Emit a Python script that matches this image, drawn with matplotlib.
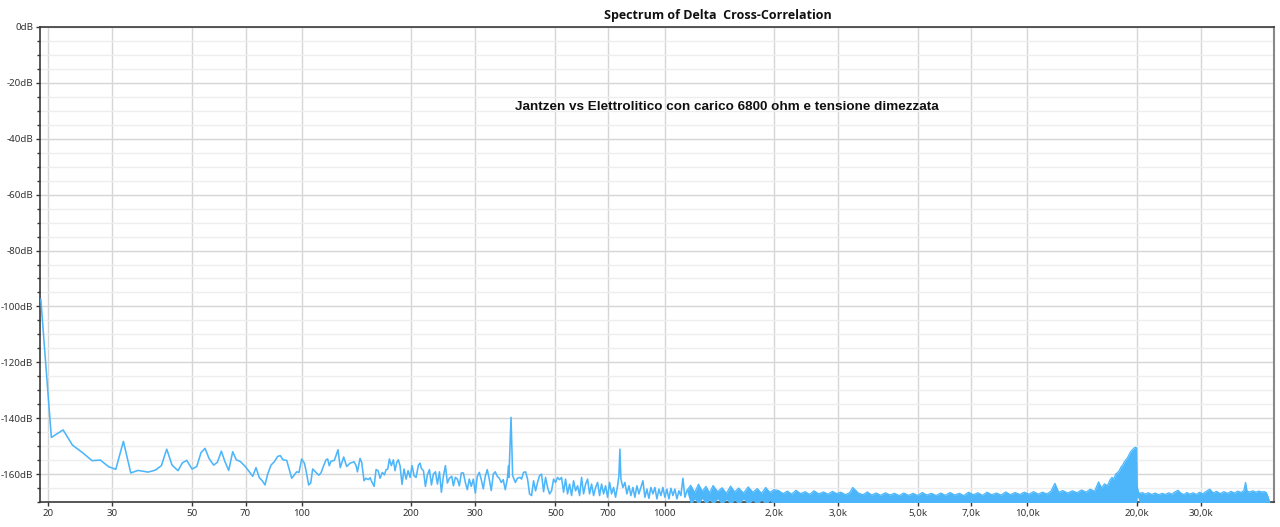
import numpy as np
import matplotlib
matplotlib.use('Agg')
import matplotlib.pyplot as plt
from matplotlib.ticker import FixedLocator, FixedFormatter, MultipleLocator, NullFormatter

TITLE = 'Spectrum of Delta  Cross-Correlation'
NOTE = 'Jantzen vs Elettrolitico con carico 6800 ohm e tensione dimezzata'

# low / mid band, drawn as a line (Hz, dB)
LINE_FREQ = [
  19.1, 20.42, 22.0, 23.33, 24.97, 26.44, 27.87, 29.39, 30.73, 32.25, 33.80, 35.40,
  37.72, 39.50, 41.04, 42.46, 43.92, 45.62, 46.88, 48.21, 49.86, 51.37, 52.79, 54.14,
  55.53, 57.21, 58.54, 60.04, 61.46, 62.92, 64.54, 66.03, 67.72, 69.91, 73.27, 74.82,
  76.40, 77.87, 79.22, 80.58, 82.29, 84.03, 85.86, 87.29, 88.80, 90.91, 93.83, 96.86,
  98.28, 100.0, 101.7, 102.8, 104.5, 105.9, 107.2, 109.5, 111.4, 113.0, 114.7, 116.7,
  117.9, 119.1, 120.4, 123.0, 125.9, 127.7, 130.5, 133.0, 135.9,
  139.4, 141.2, 142.4, 144.8, 146.3, 148.5, 150.4, 152.5, 154.3, 155.9, 158.3, 160.3,
  162.4, 164.4, 166.8, 169.0, 170.8, 172.6, 174.4, 176.6, 178.9, 180.8, 182.8, 184.6,
  186.6, 189.0, 191.4, 193.9, 196.4, 198.9, 201.4, 204.0, 206.6, 209.7, 211.9, 213.7,
  216.5, 219.2, 222.0, 224.9, 227.8, 230.6, 233.6, 236.6, 239.6, 242.6, 245.7, 248.9,
  252.0, 255.2, 259.1, 261.8, 265.1, 268.5, 271.9, 275.4, 278.9, 282.4, 286.0, 289.6,
  293.3, 297.1, 300.9, 304.7, 308.6, 312.5, 316.5, 320.5, 324.6, 328.7, 332.9, 337.2,
  341.5, 345.8, 350.2, 354.7, 359.2, 363.8, 368.4, 371.7, 372.4, 377.4, 381.3, 388.0,
  393.1, 399.6,
  403.5, 408.6, 413.9, 419.2, 424.5, 429.9, 435.4, 441.0, 446.6, 452.3, 458.1, 464.0,
  469.9, 475.9, 482.0, 488.1, 494.4, 500.7, 507.1, 513.6, 520.1, 526.8, 533.5, 540.3,
  547.2, 554.2, 561.3, 568.5, 575.7, 583.1, 590.5, 598.1, 605.7, 613.5, 621.3, 629.2,
  637.3, 645.4, 653.7, 662.0, 670.4, 679.0, 687.7, 696.5, 705.4, 714.4, 723.5, 732.7,
  742.1, 748.4, 753.1, 757.9, 767.6, 777.4, 787.3, 797.4, 807.6, 817.9, 828.3, 838.9,
  849.6, 860.5, 871.5, 882.6, 893.9, 905.3, 916.8, 928.5, 940.4, 952.4, 964.6, 976.9,
  989.4, 1002.0, 1014.8, 1027.8, 1040.9, 1054.1, 1067.6, 1081.3, 1095.1, 1109.0, 1123.2,
  1137.5, 1152.1,
]
LINE_DB = [
  -97.5, -146.9, -144.2, -149.6, -152.5, -155.2, -155.0, -157.4, -158.3, -148.3, -159.6, -158.7,
  -159.3, -158.6, -157.0, -151.1, -156.8, -158.8, -156.0, -155.1, -158.2, -157.3, -152.3, -150.8,
  -154.4, -156.8, -155.8, -151.8, -155.6, -158.7, -152.0, -154.9, -155.5, -157.3, -160.8, -157.7,
  -161.3, -162.4, -163.9, -160.0, -156.8, -155.6, -153.7, -153.4, -154.9, -155.1, -161.5, -159.2,
  -159.4, -154.6, -156.1, -158.8, -163.9, -163.2, -158.2, -159.4, -160.4, -159.6, -157.3, -154.9,
  -154.6, -157.0, -155.4, -155.1, -151.3, -157.7, -153.9, -157.3, -156.1,
  -155.6, -157.0, -159.2, -154.4, -155.8, -162.4, -161.5, -162.0, -161.3, -162.7, -164.4, -158.4,
  -158.8, -161.5, -159.4, -160.3, -158.4, -158.2, -154.6, -157.0, -154.9, -158.8, -155.8, -154.9,
  -157.0, -163.7, -158.2, -161.8, -158.8, -161.2, -157.0, -160.6, -161.2, -156.8, -156.1, -158.0,
  -158.8, -164.4, -160.3, -158.4, -163.9, -160.0, -159.2, -163.6, -159.2, -166.5, -160.8, -157.0,
  -163.2, -161.5, -160.8, -164.2, -161.2, -161.8, -164.2, -159.6, -159.6, -163.0, -165.6, -161.8,
  -164.4, -161.8, -166.8, -160.8, -159.4, -162.0, -165.3, -160.8, -158.4, -161.8, -165.9, -160.0,
  -159.2, -160.8, -161.5, -163.0, -162.0, -165.6, -162.0, -157.0, -161.2, -139.7, -160.6, -163.0,
  -161.5, -161.2,
  -161.8, -159.4, -159.2, -161.8, -167.1, -167.7, -162.4, -166.0, -163.0, -160.6, -160.0, -166.3,
  -161.2, -164.8, -167.1, -166.0, -161.8, -163.0, -161.2, -162.0, -161.2, -166.5, -161.8, -167.1,
  -163.6, -167.7, -162.4, -166.0, -164.2, -167.7, -161.2, -167.1, -163.6, -161.8, -167.1, -163.6,
  -167.7, -164.8, -163.0, -167.7, -163.6, -167.1, -164.2, -168.3, -163.0, -167.1, -164.8, -168.3,
  -164.2, -160.6, -151.1, -161.8, -164.8, -163.0, -167.1, -164.2, -167.7, -164.8, -168.3, -164.2,
  -167.1, -164.8, -162.4, -168.3, -165.4, -168.7, -164.8, -167.1, -164.8, -168.9, -165.4, -167.7,
  -164.8, -168.3, -165.4, -168.9, -165.1, -167.7, -165.4, -168.9, -166.0, -167.7, -161.5,
  -168.3, -166.0,
]

# high band is too dense to see single bins: top edge of the filled band (Hz, dB)
BAND_FREQ = [
  1150, 1180, 1210, 1240, 1270, 1300, 1330, 1360, 1400, 1440, 1480, 1520, 1560, 1600,
  1650, 1700, 1750, 1800, 1850, 1900, 1950, 2000,
  2060, 2120, 2180, 2240, 2300, 2370, 2440, 2510, 2580, 2660, 2740, 2820, 2900, 2980,
  3060, 3150, 3240, 3300, 3420, 3520, 3620, 3720, 3830, 3940, 4060, 4180, 4300, 4430,
  4560, 4700, 4840, 4980, 5130, 5280, 5440, 5600, 5770, 5940, 6120, 6300, 6490, 6680,
  6880, 7090, 7300, 7520, 7740, 7970, 8210, 8460, 8710, 8970, 9240, 9520, 9800, 10100,
  10400, 10700, 11000, 11300, 11600, 11900, 12200, 12500, 12900, 13300, 13700, 14100,
  14500, 14900, 15300,
  15700, 16000, 16300, 16600, 16900, 17100, 17300, 17500, 17700, 17900, 18100, 18300,
  18500, 18700, 18900, 19100, 19300, 19500, 19700, 19900, 19980, 20050, 20200, 20400,
  20700, 21100, 21500, 22000, 22500, 23000, 23500, 24000, 24500, 25000, 25500, 26000,
  26500, 27000, 27500, 28000, 28600, 29200, 29800, 30400, 31000, 31800, 32500, 33200,
  34000, 34800, 35600, 36400, 37200, 38000, 38800, 39500, 39900, 40300, 41000, 41800,
  42600, 43400, 44200, 45000, 45500, 46000, 46500,
]
BAND_TOP = [
  -166.0, -164.0, -166.6, -163.6, -166.2, -164.4, -166.8, -164.1, -166.3, -164.9, -166.9, -164.3, -166.4, -165.0,
  -166.8, -164.6, -166.5, -165.2, -166.9, -164.8, -166.6, -165.6,
  -165.9, -167.0, -166.1, -167.2, -165.8, -167.0, -166.3, -167.3, -166.0, -167.1, -166.4, -167.2, -166.2, -167.0,
  -166.5, -167.4, -166.6, -164.8, -166.8, -167.4, -166.4, -167.5, -166.8, -167.6, -166.7, -167.5, -166.9, -167.7,
  -166.8, -167.6, -166.9, -167.7, -166.6, -167.5, -166.9, -167.7, -166.8, -167.6, -166.6, -167.5, -166.9, -167.7,
  -166.5, -167.4, -166.7, -167.6, -166.5, -167.4, -166.8, -167.5, -166.4, -167.4, -166.6, -167.3, -166.5, -167.2,
  -166.3, -167.2, -166.5, -167.1, -166.2, -163.3, -166.6, -165.9, -166.8, -166.0, -166.7, -165.7,
  -166.5, -165.4, -166.2,
  -162.8, -165.0, -163.5, -164.2, -162.0, -161.2, -161.8, -160.0, -159.5, -158.8, -157.5, -156.8,
  -155.6, -154.8, -154.0, -152.8, -151.8, -151.2, -150.6, -150.4, -150.8, -164.2, -166.3, -167.0,
  -166.6, -167.2, -166.7, -167.3, -166.8, -167.4, -166.9, -167.3, -166.7, -167.2, -166.4, -165.8,
  -166.9, -167.3, -166.6, -167.2, -166.7, -167.3, -166.5, -167.1, -166.3, -165.4, -166.8, -166.2,
  -167.0, -166.3, -166.9, -166.2, -166.8, -166.1, -166.6, -165.8, -163.0, -166.2, -166.4, -166.0,
  -166.5, -166.1, -166.4, -166.3, -166.6, -168.0, -170.0,
]
BAND_FLOOR = -171.0
# places where the bottom of the band lifts off the floor
HOLE_FREQ = [1150, 1210, 1270, 1330, 1400, 1480, 1560, 1650, 1750, 1850, 1950, 20050, 20200]
HOLE_DB = [-166.0, -169.0, -168.8, -169.2, -168.9, -169.1, -169.3, -169.0, -169.4, -169.3, -169.5, -168.4, -168.6]

XTICKS = [20, 30, 50, 70, 100, 200, 300, 500, 700, 1000, 2000, 3000, 5000, 7000, 10000, 20000, 30000]
XTICK_LABELS = ['20', '30', '50', '70', '100', '200', '300', '500', '700', '1000',
                '2,0k', '3,0k', '5,0k', '7,0k', '10,0k', '20,0k', '30,0k']
YTICKS = [0, -20, -40, -60, -80, -100, -120, -140, -160]

BLUE = '#4db6fb'

fig = plt.figure(figsize=(12.8, 5.27), dpi=100)
ax = fig.add_axes([40/1280, 1-502/527, 1234/1280, 475/527])

band_freq = np.array(BAND_FREQ, dtype=float)
band_top = np.array(BAND_TOP)
band_bot = np.full_like(band_top, BAND_FLOOR)
for f, v in zip(HOLE_FREQ, HOLE_DB):
  band_bot[band_freq == f] = v

ax.plot(LINE_FREQ, LINE_DB, color=BLUE, lw=1.15, zorder=3)
ax.fill_between(band_freq, band_bot, band_top, color=BLUE, lw=0, zorder=3)
ax.plot(band_freq, band_top, color=BLUE, lw=0.9, zorder=3)

ax.set_xscale('log')
ax.set_xlim(19, 47800)
ax.set_ylim(-170, 0)

ax.xaxis.set_major_locator(FixedLocator(XTICKS))
ax.xaxis.set_major_formatter(FixedFormatter(XTICK_LABELS))
ax.xaxis.set_minor_locator(FixedLocator([]))
ax.xaxis.set_minor_formatter(NullFormatter())
ax.yaxis.set_major_locator(FixedLocator(YTICKS))
ax.yaxis.set_major_formatter(FixedFormatter(['%ddB' % v for v in YTICKS]))
ax.yaxis.set_minor_locator(MultipleLocator(5))

ax.grid(True, which='major', axis='both', color='#d6d6d6', lw=1.0, zorder=0)
ax.grid(True, which='minor', axis='y', color='#eeeeee', lw=1.0, zorder=0)
ax.set_axisbelow(True)

ax.tick_params(axis='both', which='major', length=3, width=1, color='#333333',
               labelsize=7, labelcolor='#333333', pad=2)
ax.tick_params(axis='y', which='minor', length=2.5, width=1, color='#333333')
for lab in ax.get_xticklabels() + ax.get_yticklabels():
  lab.set_family('Noto Sans')

for s in ['left', 'bottom', 'top']:
  ax.spines[s].set_color('#3a3a3a')
  ax.spines[s].set_linewidth(1.2)
ax.spines['right'].set_color('#888888')
ax.spines['right'].set_linewidth(1.5)

fig.text(718/1280, 1-16/527, TITLE, ha='center', va='center',
         fontsize=9, fontweight='bold', family='Open Sans', color='#111111')
fig.text(727/1280, 1-107/527, NOTE, ha='center', va='center',
         fontsize=9.7, fontweight='bold', family='Liberation Sans', color='#111111')

fig.savefig('out.png', dpi=100)
